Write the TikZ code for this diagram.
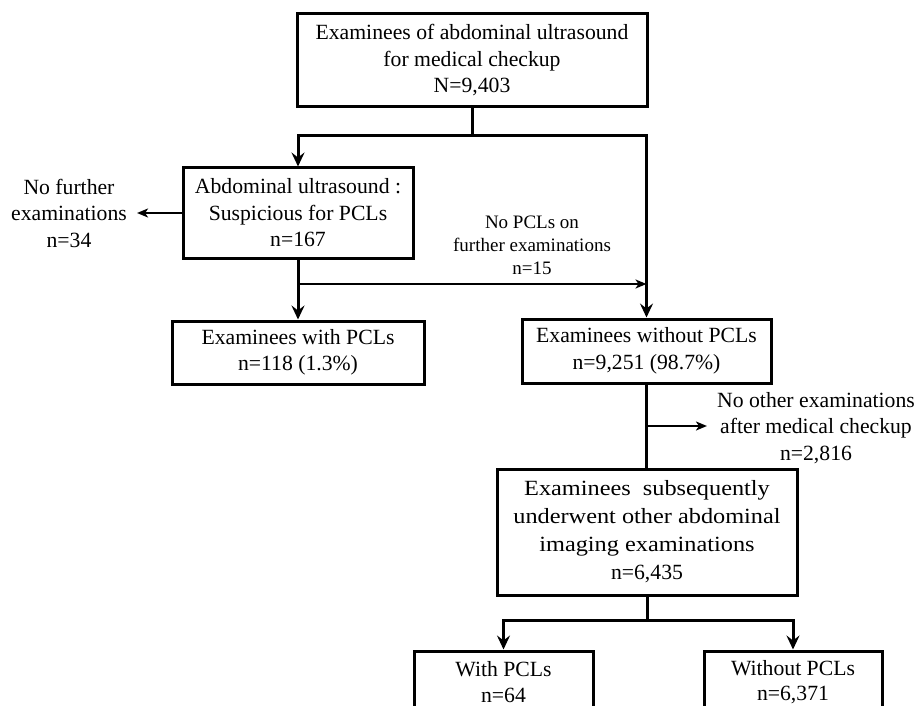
\documentclass[tikz,border=0pt]{standalone}
\usepackage{fontspec}
\setmainfont{Liberation Serif}
\newfontfamily\widefont[FakeStretch=1.12]{Liberation Serif}
\usetikzlibrary{arrows.meta,positioning,calc}

\begin{document}
\begin{tikzpicture}[
    x=1pt, y=-1pt,
    box/.style={rectangle, draw=black, line width=3pt, align=center, inner sep=0pt},
    note/.style={align=center, inner sep=10pt},
    line/.style={line width=3pt},
    arrow/.style={line width=3pt, -{Stealth[length=14pt, width=13pt, inset=5pt]}},
    sidearrow/.style={line width=2.5pt, -{Stealth[length=11pt, width=9pt, inset=3pt]}},
    font=\fontsize{21.7}{26.5}\selectfont
]
\useasboundingbox (0,0) rectangle (916,706);

% Top
\node[box, minimum width=350pt, minimum height=93pt] (exam) at (472,60.5) {Examinees of abdominal ultrasound\\for medical checkup\\N=9,403};

% Left branch
\node[box, minimum width=230pt, minimum height=90pt] (susp) at (298,213) {Abdominal ultrasound :\\Suspicious for PCLs\\n=167};
\node[note] (nofurther) at (69,213) {No further\\examinations\\n=34};
\node[box, minimum width=252pt, minimum height=63pt] (withpcl) at (298,352.5) {Examinees with PCLs\\n=118 (1.3\%)};

% Right branch
\node[note, font=\fontsize{19}{23}\selectfont] (nopcl) at (532,245) {No PCLs on\\further examinations\\n=15};
\node[box, minimum width=249pt, minimum height=64pt] (withoutpcl) at (646.5,351) {Examinees without PCLs\\n=9,251 (98.7\%)};
\node[note] (noother) at (816,428) {No other examinations\\after medical checkup\\n=2,816};
\node[box, minimum width=300pt, minimum height=126pt, font=\fontsize{21.7}{28}\selectfont] (subseq) at (647,532) {{\widefont Examinees\ \ subsequently}\\{\widefont underwent other abdominal}\\{\widefont imaging examinations}\\n=6,435};

% Bottom
\node[box, minimum width=179pt, minimum height=62pt, font=\fontsize{21.7}{25.5}\selectfont] (withp) at (503.5,682) {With PCLs\\n=64};
\node[box, minimum width=178pt, minimum height=62pt, font=\fontsize{21.7}{25.5}\selectfont] (withoutp) at (793,682) {Without PCLs\\n=6,371};

% Connectors
\coordinate (split) at (472,136);
\draw[line] (exam.south) -- (split);
\draw[arrow] (split) -| (susp.north);
\draw[arrow] (split) -| (withoutpcl.north);
\draw[sidearrow] (susp.west) -- (nofurther.east);
\draw[arrow] (susp) -- (withpcl);
\coordinate (j15) at (646.5,284);
\draw[sidearrow] (susp.south |- j15) -- (j15);
\draw[line] (withoutpcl.south) -- (withoutpcl.south |- subseq.north);
\coordinate (j2816) at (646.5,426);
\draw[sidearrow] (j2816) -- (noother.west |- j2816);
\coordinate (split2) at (647,620);
\draw[line] (subseq.south) -- (split2);
\draw[arrow] (split2) -| (withp.north);
\draw[arrow] (split2) -| (withoutp.north);

\end{tikzpicture}
\end{document}
